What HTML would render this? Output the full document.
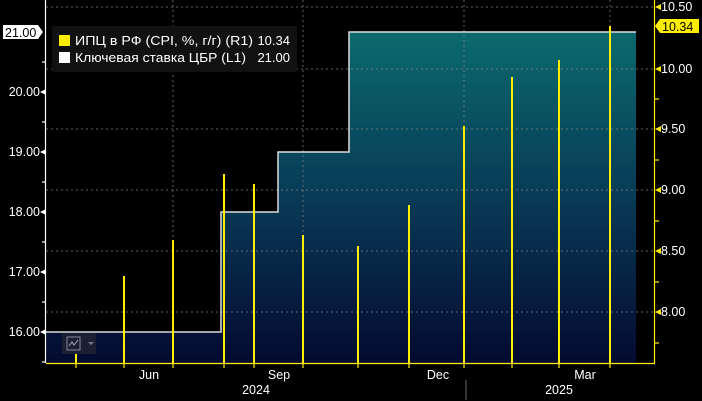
<html><body style="margin:0;background:#000;width:702px;height:401px;overflow:hidden;font-family:'Liberation Sans','DejaVu Sans',sans-serif">
<svg width="702" height="401" xmlns="http://www.w3.org/2000/svg" style="display:block">
<defs><linearGradient id="g" x1="0" y1="0" x2="0" y2="1"><stop offset="0" stop-color="#0b6a6e"/><stop offset="0.5" stop-color="#083a56"/><stop offset="1" stop-color="#040a30"/></linearGradient></defs>
<rect width="702" height="401" fill="#000"/>
<path d="M46,332 H221 V212 H278 V152 H349 V32 H636 V363 H46 Z" fill="url(#g)"/>
<g stroke="#888" stroke-dasharray="2,3" stroke-width="1" opacity="0.7">
<line x1="46" y1="7" x2="655" y2="7"/><line x1="46" y1="69" x2="655" y2="69"/><line x1="46" y1="129" x2="655" y2="129"/><line x1="46" y1="190" x2="655" y2="190"/><line x1="46" y1="251" x2="655" y2="251"/><line x1="46" y1="312" x2="655" y2="312"/>
<line x1="173" y1="0" x2="173" y2="363"/><line x1="303" y1="0" x2="303" y2="363"/><line x1="464" y1="0" x2="464" y2="363"/><line x1="610" y1="0" x2="610" y2="363"/>
</g>
<path d="M46,332 H221 V212 H278 V152 H349 V32 H636" fill="none" stroke="#ddd" stroke-width="1.5"/>
<g stroke="#ffee00" stroke-width="2">
<line x1="76" y1="333" x2="76" y2="363"/><line x1="124" y1="276" x2="124" y2="363"/><line x1="173" y1="240" x2="173" y2="363"/><line x1="224" y1="174" x2="224" y2="363"/><line x1="254" y1="184" x2="254" y2="363"/><line x1="303" y1="235" x2="303" y2="363"/><line x1="358" y1="246" x2="358" y2="363"/><line x1="409" y1="205" x2="409" y2="363"/><line x1="464" y1="126" x2="464" y2="363"/><line x1="512" y1="77" x2="512" y2="363"/><line x1="559" y1="60" x2="559" y2="363"/><line x1="610" y1="26" x2="610" y2="363"/>
</g>
<g stroke="#fff" stroke-width="1.2" fill="none">
<line x1="45.5" y1="0" x2="45.5" y2="363"/><line x1="42" y1="62" x2="46" y2="62"/><line x1="42" y1="122" x2="46" y2="122"/><line x1="42" y1="182" x2="46" y2="182"/><line x1="42" y1="242" x2="46" y2="242"/><line x1="42" y1="302" x2="46" y2="302"/><line x1="42" y1="362" x2="46" y2="362"/>
</g>
<g stroke="#ffee00" stroke-width="1.2">
<line x1="46" y1="363.5" x2="655" y2="363.5"/><line x1="654.5" y1="0" x2="654.5" y2="363"/>
<line x1="655" y1="99" x2="659" y2="99"/><line x1="655" y1="160" x2="659" y2="160"/><line x1="655" y1="221" x2="659" y2="221"/><line x1="655" y1="282" x2="659" y2="282"/><line x1="655" y1="343" x2="659" y2="343"/>
<line x1="76" y1="363" x2="76" y2="368"/><line x1="124" y1="363" x2="124" y2="368"/><line x1="173" y1="363" x2="173" y2="368"/><line x1="224" y1="363" x2="224" y2="368"/><line x1="254" y1="363" x2="254" y2="368"/><line x1="303" y1="363" x2="303" y2="368"/><line x1="358" y1="363" x2="358" y2="368"/><line x1="409" y1="363" x2="409" y2="368"/><line x1="464" y1="363" x2="464" y2="368"/><line x1="512" y1="363" x2="512" y2="368"/><line x1="559" y1="363" x2="559" y2="368"/><line x1="610" y1="363" x2="610" y2="368"/>
</g>
<line x1="466" y1="380" x2="466" y2="400" stroke="#666"/>
<g fill="#fff" font-size="12.5">
<text x="40" y="96" text-anchor="end">20.00</text><text x="40" y="156" text-anchor="end">19.00</text><text x="40" y="216" text-anchor="end">18.00</text><text x="40" y="276" text-anchor="end">17.00</text><text x="40" y="336" text-anchor="end">16.00</text>
<path d="M40,92 l6,-3 v6z M40,152 l6,-3 v6z M40,212 l6,-3 v6z M40,272 l6,-3 v6z M40,332 l6,-3 v6z"/>
<text x="661" y="11">10.50</text><text x="661" y="73">10.00</text><text x="661" y="133">9.50</text><text x="661" y="194">9.00</text><text x="661" y="255">8.50</text><text x="661" y="316">8.00</text>
<text x="149" y="379" text-anchor="middle">Jun</text><text x="279" y="379" text-anchor="middle">Sep</text><text x="438" y="379" text-anchor="middle">Dec</text><text x="585" y="379" text-anchor="middle">Mar</text>
<text x="256" y="394" text-anchor="middle">2024</text><text x="559" y="394" text-anchor="middle">2025</text>
</g>
<path d="M655,7 l6,-3 v6z M655,69 l6,-3 v6z M655,129 l6,-3 v6z M655,190 l6,-3 v6z M655,251 l6,-3 v6z M655,312 l6,-3 v6z" fill="#ffee00"/>
<path d="M3,25 H38 L43,32 L38,39 H3 Z" fill="#fff"/><text x="5" y="37" font-size="12.5" fill="#000">21.00</text>
<path d="M655,26 L660,19 H699 V33 H660 Z" fill="#ffee00"/><text x="662" y="31" font-size="12.5" fill="#000">10.34</text>
<rect x="52" y="26" width="245" height="46" fill="#111" rx="2"/>
<rect x="59" y="35" width="11" height="11" fill="#ffee00"/><rect x="59" y="52" width="11" height="11" fill="#fff"/>
<g fill="#fff" font-size="13"><text x="75" y="45" textLength="178" lengthAdjust="spacingAndGlyphs">ИПЦ в РФ (CPI, %, г/г) (R1)</text><text x="290" y="45" text-anchor="end">10.34</text>
<text x="75" y="62" textLength="171" lengthAdjust="spacingAndGlyphs">Ключевая ставка ЦБР (L1)</text><text x="290" y="62" text-anchor="end">21.00</text></g>
<rect x="62" y="333" width="34" height="21" fill="#1a1f33"/><rect x="67" y="337" width="13" height="13" fill="none" stroke="#889"/>
<path d="M69,346 l3,-4 l2,3 l4,-5" stroke="#aab" fill="none"/><path d="M88,342 h6 l-3,3z" fill="#778"/>
</svg></body></html>
